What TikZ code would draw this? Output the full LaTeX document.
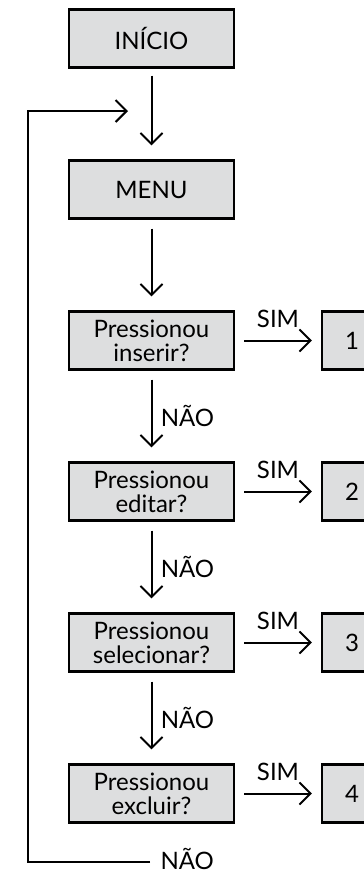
\documentclass[tikz,border=0pt]{standalone}
\usepackage{fontspec}
\setmainfont{Lato}
\usetikzlibrary{arrows.meta}
\definecolor{boxgray}{RGB}{221, 222, 223}
\tikzstyle{process} = [rectangle, minimum width=165pt, minimum height=58pt,
                       inner sep=0pt, align=center, draw=black,
                       fill=boxgray, line width=2.2pt]
\tikzstyle{numbox} = [process, minimum width=60pt]
\tikzstyle{arrow} = [line width=2pt, -{Straight Barb[length=11pt, width=22pt, line width=2pt]}]
\tikzstyle{flow} = [arrow, shorten <=9pt, shorten >=14pt]
\tikzstyle{sim} = [arrow, shorten <=9pt, shorten >=9pt]

\begin{document}
\begin{tikzpicture}[node distance=151pt, x=1pt, y=1pt,
                    font=\fontsize{24}{24}\selectfont]
        \useasboundingbox (0,0) rectangle (364,-873);

        \node (Inicio) [process] at (151.5,-38.5) {INÍCIO};
        \node (Menu) [process, below of = Inicio] {MENU};

        %Questions
        \node (Inserir) [process, below of = Menu] {Pressionou\\inserir?};
        \node (Editar) [process, below of = Inserir] {Pressionou\\editar?};
        \node (Selecionar) [process, below of = Editar] {Pressionou\\selecionar?};
        \node (Excluir) [process, below of = Selecionar] {Pressionou\\excluir?};

        %Actions
        \node (Um) [numbox, right of = Inserir, xshift=49.5pt] {1};
        \node (Dois) [numbox, right of = Editar, xshift=49.5pt] {2};
        \node (Tres) [numbox, right of = Selecionar, xshift=49.5pt] {3};
        \node (Quatro) [numbox, right of = Excluir, xshift=49.5pt] {4};

        %Main line
        \draw [flow, shorten <=7pt] (Inicio) -- (Menu);
        \draw [flow] (Menu) -- (Inserir);
        \draw [flow] (Inserir) -- node [right, xshift=5pt] {NÃO} (Editar);
        \draw [flow] (Editar) -- node [right, xshift=5pt] {NÃO} (Selecionar);
        \draw [flow] (Selecionar) -- node [right, xshift=5pt] {NÃO} (Excluir);

        %SIM branches
        \draw [sim] (Inserir) -- node [above, yshift=8pt] {SIM} (Um);
        \draw [sim] (Editar) -- node [above, yshift=8pt] {SIM} (Dois);
        \draw [sim] (Selecionar) -- node [above, yshift=8pt] {SIM} (Tres);
        \draw [sim] (Excluir) -- node [above, yshift=8pt] {SIM} (Quatro);

        %Back to menu
        \node (NaoFim) [anchor=base west] at (157,-869) {NÃO};
        \coordinate (Canto) at (28,-862);
        \coordinate (Volta) at (128,-111);
        \draw [arrow, shorten <=7pt] (NaoFim.west |- Canto) -- (Canto) |- (Volta);

    \end{tikzpicture}
\end{document}
